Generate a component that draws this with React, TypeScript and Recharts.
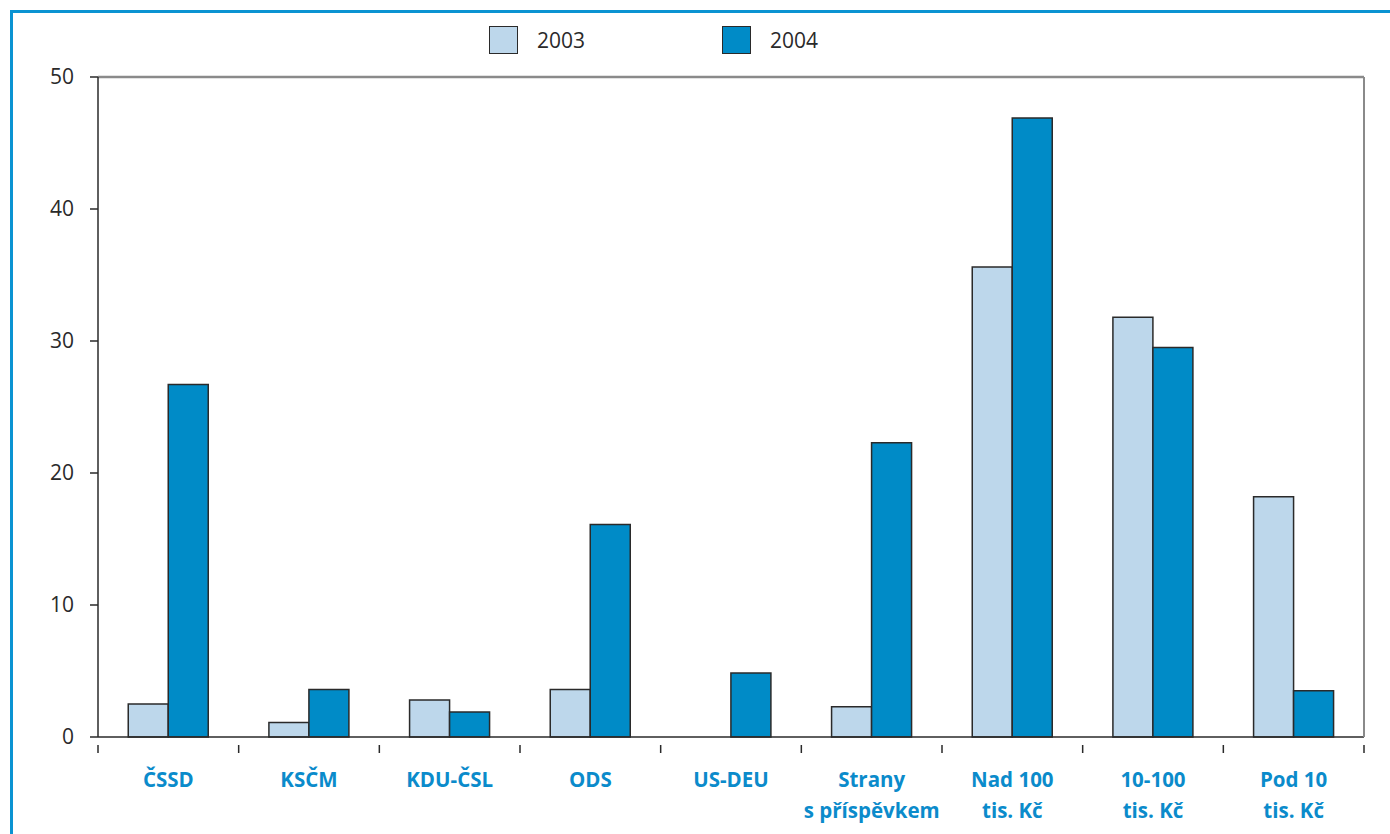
import React from 'react';
import { BarChart, Bar, XAxis, YAxis, CartesianGrid, ReferenceLine } from 'recharts';

const categories = [
  ['ČSSD'],
  ['KSČM'],
  ['KDU-ČSL'],
  ['ODS'],
  ['US-DEU'],
  ['Strany', 's příspěvkem'],
  ['Nad 100', 'tis. Kč'],
  ['10-100', 'tis. Kč'],
  ['Pod 10', 'tis. Kč'],
];
const values2003 = [2.5, 1.1, 2.8, 3.6, 0, 2.3, 35.6, 31.8, 18.2];
const values2004 = [26.7, 3.6, 1.9, 16.1, 4.85, 22.3, 46.9, 29.5, 3.5];
const yTicks = [0, 10, 20, 30, 40, 50];

const series = [
  { key: 'y2003', name: '2003', color: '#bdd7eb' },
  { key: 'y2004', name: '2004', color: '#008bc7' },
];

const data = categories.map((lines, i) => ({
  name: lines.join(' '),
  lines,
  y2003: values2003[i],
  y2004: values2004[i],
}));

const FONT = '"Open Sans", "Noto Sans", sans-serif';
const INK = '#2a2a2a';
const BLUE = '#0b8bcb';

const CategoryTick = (props: any) => {
  const { x, y, payload, index } = props;
  const half = payload?.offset ?? 70.3;
  const lines: string[] = data[index]?.lines ?? [String(payload.value)];
  const last = index === data.length - 1;
  return (
    <g>
      <line x1={x - half} y1={y} x2={x - half} y2={y + 8} stroke={INK} strokeWidth={1.5} />
      {last && <line x1={x + half} y1={y} x2={x + half} y2={y + 8} stroke={INK} strokeWidth={1.5} />}
      <text x={x} y={y + 42} textAnchor="middle" fill={BLUE} fontFamily={FONT} fontWeight={700} fontSize={20.5}>
        {lines.map((l, k) => (
          <tspan key={k} x={x} dy={k === 0 ? 0 : 31}>{l}</tspan>
        ))}
      </text>
    </g>
  );
};

const LegendBox = () => (
  <div style={{ position: 'absolute', left: 489, top: 26, display: 'flex', fontFamily: FONT, fontSize: 21, color: INK }}>
    {series.map((s) => (
      <div key={s.key} style={{ display: 'flex', alignItems: 'center', width: 233 }}>
        <span style={{ width: 27, height: 26, background: s.color, border: `1.5px solid ${INK}`, marginRight: 19 }} />
        <span>{s.name}</span>
      </div>
    ))}
  </div>
);

export default function App() {
  return (
    <div style={{ position: 'absolute', left: 0, top: 0, width: 1390, height: 834, background: '#fff' }}>
      <div style={{ position: 'absolute', left: 10, top: 10, right: 0, bottom: 0, borderLeft: '3px solid #0a93d2', borderTop: '3px solid #0a93d2' }} />
      <LegendBox />
      <BarChart
        width={1390}
        height={834}
        data={data}
        margin={{ top: 77, right: 25, bottom: 37, left: 38 }}
        barCategoryGap="21.5%"
        barGap={0}
      >
        <CartesianGrid vertical={false} horizontalValues={[10, 20, 30, 40]} stroke={INK} strokeWidth={1.2} />
        <XAxis
          dataKey="name"
          height={60}
          axisLine={{ stroke: INK, strokeWidth: 1.5 }}
          tickLine={false}
          tick={<CategoryTick />}
          interval={0}
        />
        <YAxis
          yAxisId="left"
          width={60}
          domain={[0, 50]}
          ticks={yTicks}
          axisLine={{ stroke: INK, strokeWidth: 1.5 }}
          tickLine={{ stroke: INK, strokeWidth: 1.5 }}
          tickSize={8}
          tickMargin={16}
          tick={{ fill: INK, fontFamily: FONT, fontSize: 21 }}
        />
        <YAxis
          yAxisId="right"
          orientation="right"
          width={1}
          domain={[0, 50]}
          tick={false}
          tickLine={false}
          axisLine={{ stroke: '#8a8a8a', strokeWidth: 2 }}
        />
        <ReferenceLine yAxisId="left" y={50} stroke="#8a8a8a" strokeWidth={2.5} />
        {series.map((s) => (
          <Bar
            key={s.key}
            yAxisId="left"
            dataKey={s.key}
            name={s.name}
            fill={s.color}
            stroke={INK}
            strokeWidth={1.5}
            isAnimationActive={false}
          />
        ))}
      </BarChart>
    </div>
  );
}
